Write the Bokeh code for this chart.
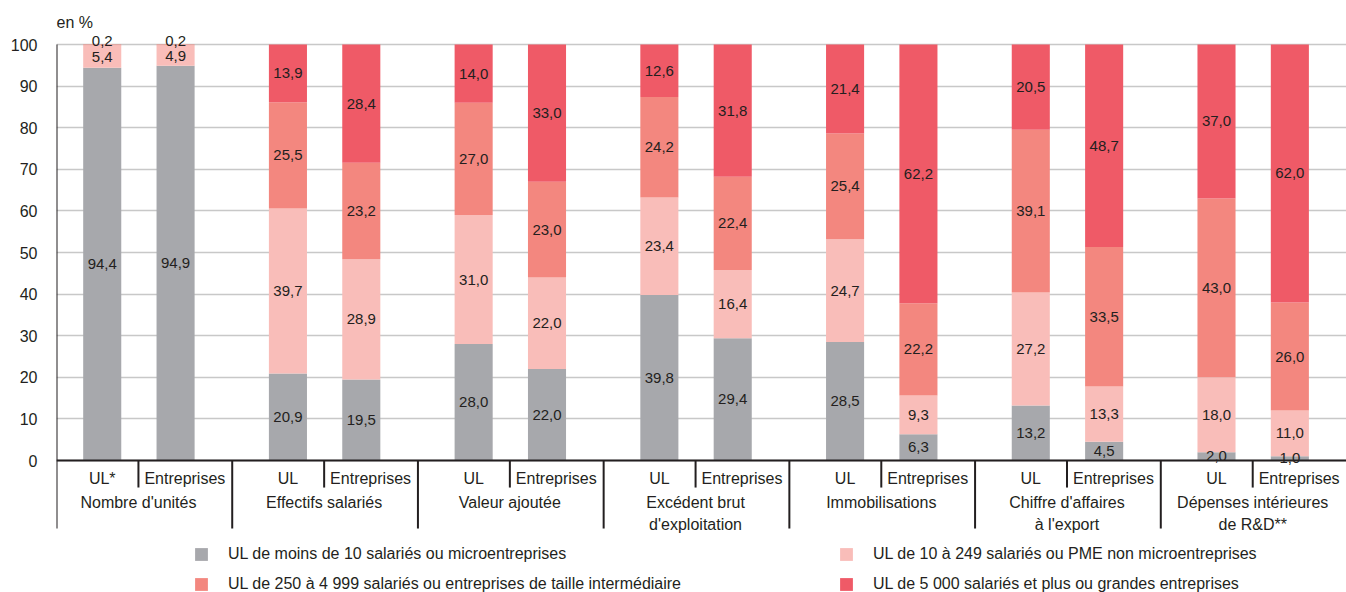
from bokeh.plotting import figure
from bokeh.models import Range1d, FixedTicker, Span, Label, Legend, LegendItem, ColumnDataSource
from bokeh.core.properties import value
from bokeh.embed import file_html
from bokeh.resources import INLINE

# ---------------- data ----------------
groups = ["Nombre d'unités", "Effectifs salariés", "Valeur ajoutée",
          "Excédent brut\nd'exploitation", "Immobilisations",
          "Chiffre d'affaires\nà l'export", "Dépenses intérieures\nde R&D**"]
ul_labels = ["UL*", "UL", "UL", "UL", "UL", "UL", "UL"]
ent_labels = ["Entreprises"] * 7

series_names = [
    "UL de moins de 10 salariés ou microentreprises",
    "UL de 10 à 249 salariés ou PME non microentreprises",
    "UL de 250 à 4 999 salariés ou entreprises de taille intermédiaire",
    "UL de 5 000 salariés et plus ou grandes entreprises",
]
colors = ["#a7a8ac", "#f9bdb9", "#f3877f", "#ef5a67"]

micro_ul = [94.4, 20.9, 28.0, 39.8, 28.5, 13.2, 2.0]
pme_ul = [5.4, 39.7, 31.0, 23.4, 24.7, 27.2, 18.0]
eti_ul = [0.2, 25.5, 27.0, 24.2, 25.4, 39.1, 43.0]
ge_ul = [0.0, 13.9, 14.0, 12.6, 21.4, 20.5, 37.0]

micro_ent = [94.9, 19.5, 22.0, 29.4, 6.3, 4.5, 1.0]
pme_ent = [4.9, 28.9, 22.0, 16.4, 9.3, 13.3, 11.0]
eti_ent = [0.2, 23.2, 23.0, 22.4, 22.2, 33.5, 26.0]
ge_ent = [0.0, 28.4, 33.0, 31.8, 62.2, 48.7, 62.0]

y_ticks = [0, 10, 20, 30, 40, 50, 60, 70, 80, 90, 100]

# ---------------- layout constants ----------------
FONT = "Liberation Sans"
TXT = "#231f20"
UL_OFF, ENT_OFF, SUB_SEP, ENT_LAB_OFF = 0.30, 0.695, 0.495, 0.745
BAR_W = 0.205
X0, X1 = 0.0538, 7.0
Y0, Y1 = -31.73, 110.58
N = len(groups)

keys = ["micro", "pme", "eti", "ge"]
xs, data = [], {k: [] for k in keys}
ul_series = [micro_ul, pme_ul, eti_ul, ge_ul]
ent_series = [micro_ent, pme_ent, eti_ent, ge_ent]
for g in range(N):
    for off, ser in ((UL_OFF, ul_series), (ENT_OFF, ent_series)):
        xs.append(g + off)
        for k, s in zip(keys, ser):
            data[k].append(s[g])
src = ColumnDataSource(dict(x=xs, **data))

p = figure(width=1346, height=592, output_backend="svg", toolbar_location=None,
           x_range=Range1d(X0, X1), y_range=Range1d(Y0, Y1),
           x_axis_location=None, min_border_left=56, min_border_right=0,
           min_border_top=0, min_border_bottom=0)
p.outline_line_color = None
p.background_fill_color = "white"

# y axis
p.yaxis.ticker = FixedTicker(ticks=y_ticks)
p.yaxis.axis_line_color = None
p.yaxis.major_tick_line_color = None
p.yaxis.minor_tick_line_color = None
p.yaxis.major_tick_out = 0
p.yaxis.major_label_standoff = 19
p.yaxis.major_label_text_font = FONT
p.yaxis.major_label_text_font_size = "16px"
p.yaxis.major_label_text_color = TXT
p.ygrid.grid_line_color = "#c8c8c8"
p.ygrid.grid_line_width = 1.5
p.xgrid.visible = False

renderers = p.vbar_stack(keys, x="x", width=BAR_W, source=src, color=colors, line_color=None)

# value labels
lx, ly, lt = [], [], []
for i, x in enumerate(xs):
    base = 0.0
    total = sum(data[k][i] for k in keys)
    for k in keys:
        v = data[k][i]
        if v > 0:
            lx.append(x)
            ly.append(total + 0.8 if v < 1 else base + v / 2)
            lt.append(f"{v:.1f}".replace(".", ","))
        base += v
p.text(x=lx, y=ly, text=lt, text_align="center", text_baseline="middle",
       text_font=value(FONT), text_font_size="15px", text_color=TXT)

# axes lines & separators
p.add_layout(Span(location=0, dimension="width", line_color=TXT, line_width=2))
sep_bottom = -16.35
p.segment(x0=[X0], y0=[100], x1=[X0], y1=[sep_bottom], line_color=TXT, line_width=2)
gx = list(range(1, N))
p.segment(x0=gx, y0=[0] * len(gx), x1=gx, y1=[sep_bottom] * len(gx), line_color=TXT, line_width=2)
sx = [g + SUB_SEP for g in range(N)]
p.segment(x0=sx, y0=[0] * N, x1=sx, y1=[-6.5] * N, line_color=TXT, line_width=2)

# category labels
p.text(x=[g + UL_OFF for g in range(N)], y=[-4.33] * N, text=ul_labels,
       text_align="center", text_baseline="middle", text_font=value(FONT),
       text_font_size="16px", text_color=TXT)
p.text(x=[g + ENT_LAB_OFF for g in range(N)], y=[-4.33] * N, text=ent_labels,
       text_align="center", text_baseline="middle", text_font=value(FONT),
       text_font_size="16px", text_color=TXT)
p.text(x=[g + SUB_SEP for g in range(N)], y=[-8.17] * N, text=groups,
       text_align="center", text_baseline="top", text_font=value(FONT),
       text_font_size="16px", text_color=TXT, text_line_height=1.25)

p.add_layout(Label(x=X0, y=105.3, text="en %", text_align="left", text_baseline="middle",
                   text_font=FONT, text_font_size="16px", text_color=TXT))

# legends
def make_legend(idx, loc):
    lg = Legend(items=[LegendItem(label=series_names[i], renderers=[renderers[i]]) for i in idx],
                location=loc, orientation="vertical", glyph_width=16, glyph_height=16,
                label_standoff=19, padding=0, margin=0, spacing=12,
                border_line_color=None, background_fill_alpha=0,
                label_text_font=FONT, label_text_font_size="16px", label_text_color=TXT)
    p.add_layout(lg, "center")

make_legend([0, 2], (137, -1))
make_legend([1, 3], (782, -1))

open("out.html", "w").write(file_html(p, INLINE))
